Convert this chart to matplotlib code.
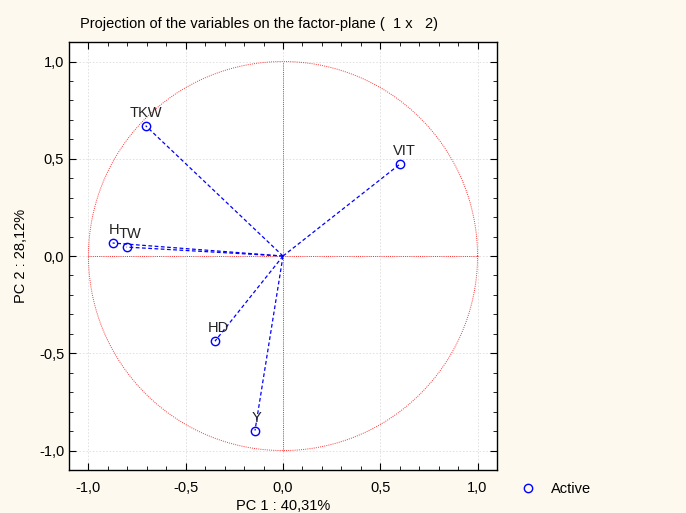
import numpy as np
import matplotlib
matplotlib.use("Agg")
import matplotlib.pyplot as plt
from matplotlib.ticker import MultipleLocator, FuncFormatter

plt.rcParams["font.family"] = ["Liberation Sans", "DejaVu Sans"]

# --- Variablen-Koordinaten auf PC1 / PC2 ---
names = ["TKW", "VIT", "H", "TW", "HD", "Y"]
pc1 = [-0.706, 0.603, -0.876, -0.804, -0.350, -0.144]
pc2 = [0.670, 0.474, 0.067, 0.046, -0.438, -0.897]
label_dx = [0.0, 0.02, 0.01, 0.02, 0.02, 0.01]

bg = "#fdf9ee"
fig = plt.figure(figsize=(6.86, 5.13), dpi=100, facecolor=bg)
ax = fig.add_axes([0.1006, 0.0838, 0.6239, 0.8342])
ax.set_facecolor("white")

# Einheitskreis und Achsenkreuz
t = np.linspace(0, 2 * np.pi, 400)
ax.plot(np.cos(t), np.sin(t), ls=(0, (1, 1.2)), color="red", lw=0.7, alpha=0.8)
ax.plot([-1, 1], [0, 0], ls=(0, (1, 1.2)), color="red", lw=0.7, alpha=0.8)
ax.plot([0, 0], [-1, 1], ls=(0, (1, 1.2)), color="red", lw=0.7, alpha=0.8)

for x, y, n, dx in zip(pc1, pc2, names, label_dx):
    ax.plot([0, x], [0, y], ls=(0, (3, 2)), color="blue", lw=0.9)
    ax.text(x + dx, y + 0.03, n, ha="center", va="bottom", fontsize=10.5, color="#222222")

ax.plot(pc1, pc2, "o", mfc="none", mec="blue", ms=6, mew=1.0, label="Active")

ax.set_xlim(-1.1, 1.1)
ax.set_ylim(-1.1, 1.1)
ax.xaxis.set_major_locator(MultipleLocator(0.5))
ax.yaxis.set_major_locator(MultipleLocator(0.5))
ax.xaxis.set_minor_locator(MultipleLocator(0.1))
ax.yaxis.set_minor_locator(MultipleLocator(0.1))
fmt = FuncFormatter(lambda v, p: f"{v:.1f}".replace(".", ",").replace("-0,0", "0,0"))
ax.xaxis.set_major_formatter(fmt)
ax.yaxis.set_major_formatter(fmt)
ax.tick_params(which="both", direction="in", top=True, right=True, labelsize=10.5)
ax.tick_params(which="major", length=5)
ax.tick_params(which="minor", length=3)
ax.tick_params(axis="x", pad=8)
ax.grid(True, which="major", color="#dddddd", ls=(0, (2, 2)), lw=0.6)
ax.set_axisbelow(True)
for s in ax.spines.values():
    s.set_linewidth(1.0)

ax.set_xlabel("PC 1 : 40,31%", fontsize=10.5, labelpad=3)
ax.set_ylabel("PC 2 : 28,12%", fontsize=10.5, labelpad=8)
fig.text(80 / 686, 1 - 24 / 513, "Projection of the variables on the factor-plane (  1 x   2)",
         fontsize=10.5, ha="left", va="center")

fig.legend(loc="center left", bbox_to_anchor=(500 / 686, 1 - 489 / 513), frameon=False,
           fontsize=10.5, handletextpad=0.6)

fig.savefig("out.png", dpi=100, facecolor=bg)
